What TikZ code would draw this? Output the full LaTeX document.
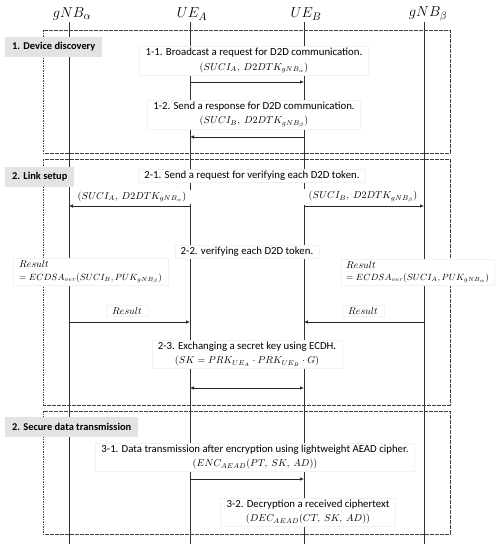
\documentclass[tikz,border=0pt]{standalone}
\usepackage{fontspec}
\setmainfont{Carlito}
\usetikzlibrary{arrows.meta}
\newcommand{\mth}[1]{{\fontsize{10}{12}\selectfont$#1$}}
\newcommand{\mths}[1]{{\fontsize{9.2}{12}\selectfont$#1$}}
\begin{document}
\begin{tikzpicture}[x=1pt,y=-1pt,
  lifeline/.style={line width=0.7pt,black!80},
  phasebox/.style={draw=black!75,line width=0.6pt,dash pattern=on 1.6pt off 0.9pt},
  phaselabel/.style={fill=black!11,font=\fontsize{10.4}{12}\selectfont\bfseries,inner xsep=7pt,inner ysep=0pt,minimum height=20pt,anchor=west},
  msgtext/.style={fill=white,draw=black!5,align=center,font=\fontsize{10.8}{14.5}\selectfont,inner xsep=6pt,inner ysep=2pt},
  restext/.style={fill=white,draw=black!5,align=left,font=\fontsize{10.8}{12.5}\selectfont,inner xsep=6pt,inner ysep=2pt,anchor=west},
  hdr/.style={font=\fontsize{15}{18}\selectfont},
  msg/.style={line width=0.7pt,black!85,-{Latex[length=4pt,width=3.6pt]}},
  dmsg/.style={line width=0.7pt,black!85,{Latex[length=4pt,width=3.6pt]}-{Latex[length=4pt,width=3.6pt]}}]
\useasboundingbox (0,0) rectangle (495,550);
\fill[white] (0,0) rectangle (495,550);
% headers
\node[hdr] (hga) at (72,14) {$gNB_{\alpha}$};
\node[hdr] (hua) at (192,14) {$UE_{A}$};
\node[hdr] (hub) at (306,14) {$UE_{B}$};
\node[hdr] (hgb) at (428,14) {$gNB_{\beta}$};
% lifelines
\coordinate (GA) at (69,22);   \coordinate (GAe) at (69,544);
\coordinate (UA) at (190,22);  \coordinate (UAe) at (190,544);
\coordinate (UB) at (304,22);  \coordinate (UBe) at (304,544);
\coordinate (GB) at (424,22);  \coordinate (GBe) at (424,544);
\draw[lifeline] (GA) -- (GAe);
\draw[lifeline] (UA) -- (UAe);
\draw[lifeline] (UB) -- (UBe);
\draw[lifeline] (GB) -- (GBe);
% phase boxes
\draw[phasebox] (43,30) rectangle (450,153);
\draw[phasebox] (43,159) rectangle (450,405);
\draw[phasebox] (43,411) rectangle (450,534);
\node[phaselabel] (p1) at (5,47) {1. Device discovery};
\node[phaselabel] (p2) at (5,177) {2. Link setup};
\node[phaselabel] (p3) at (5,426.5) {2. Secure data transmission};
% phase 1
\node[msgtext] (n11) at (254,60.5) {1-1. Broadcast a request for D2D communication.\\\mth{(SUCI_{A},\ D2DTK_{gNB_{\alpha}})}};
\node[msgtext] (n12) at (254,114.5) {1-2. Send a response for D2D communication.\\\mth{(SUCI_{B},\ D2DTK_{gNB_{\beta}})}};
\draw[msg] (UA |- 0,82) -- (UB |- 0,82);
\draw[msg] (UB |- 0,137) -- (UA |- 0,137);
% phase 2
\node[msgtext] (n21) at (252,176) {2-1. Send a request for verifying each D2D token.};
\node[msgtext,draw=none] (m21a) at (132,197) {\mth{(SUCI_{A},\ D2DTK_{gNB_{\alpha}})}};
\node[msgtext,draw=none] (m21b) at (363,197) {\mth{(SUCI_{B},\ D2DTK_{gNB_{\beta}})}};
\draw[msg] (UA |- 0,206) -- (GA |- 0,206);
\draw[msg] (UB |- 0,206) -- (GB |- 0,206);
\node[msgtext] (n22) at (247,252) {2-2. verifying each D2D token.};
\node[restext] (resa) at (13,272) {\mth{Result}\\\mths{= ECDSA_{ver}(SUCI_{B}, PUK_{gNB_{\beta}})}};
\node[restext,inner xsep=5pt] (resb) at (341,272) {\mth{Result}\\\mths{= ECDSA_{ver}(SUCI_{A}, PUK_{gNB_{\alpha}})}};
\node[msgtext] (ra) at (127,311) {\mth{Result}};
\node[msgtext] (rb) at (363,311) {\mth{Result}};
\draw[msg] (GA |- 0,322) -- (UA |- 0,322);
\draw[msg] (GB |- 0,322) -- (UB |- 0,322);
\node[msgtext] (n23) at (247,354) {2-3. Exchanging a secret key using ECDH.\\\mth{(SK = PRK_{UE_{A}}\cdot PRK_{UE_{B}}\cdot G)}};
\draw[dmsg] (UA |- 0,388) -- (UB |- 0,388);
% phase 3
\node[msgtext] (n31) at (255,457) {3-1. Data transmission after encryption using lightweight AEAD cipher.\\\mth{(ENC_{AEAD}(PT,\ SK,\ AD))}};
\draw[msg] (UA |- 0,479) -- (UB |- 0,479);
\node[msgtext] (n32) at (308,512) {3-2. Decryption a received ciphertext\\\mth{(DEC_{AEAD}(CT,\ SK,\ AD))}};
\end{tikzpicture}
\end{document}
